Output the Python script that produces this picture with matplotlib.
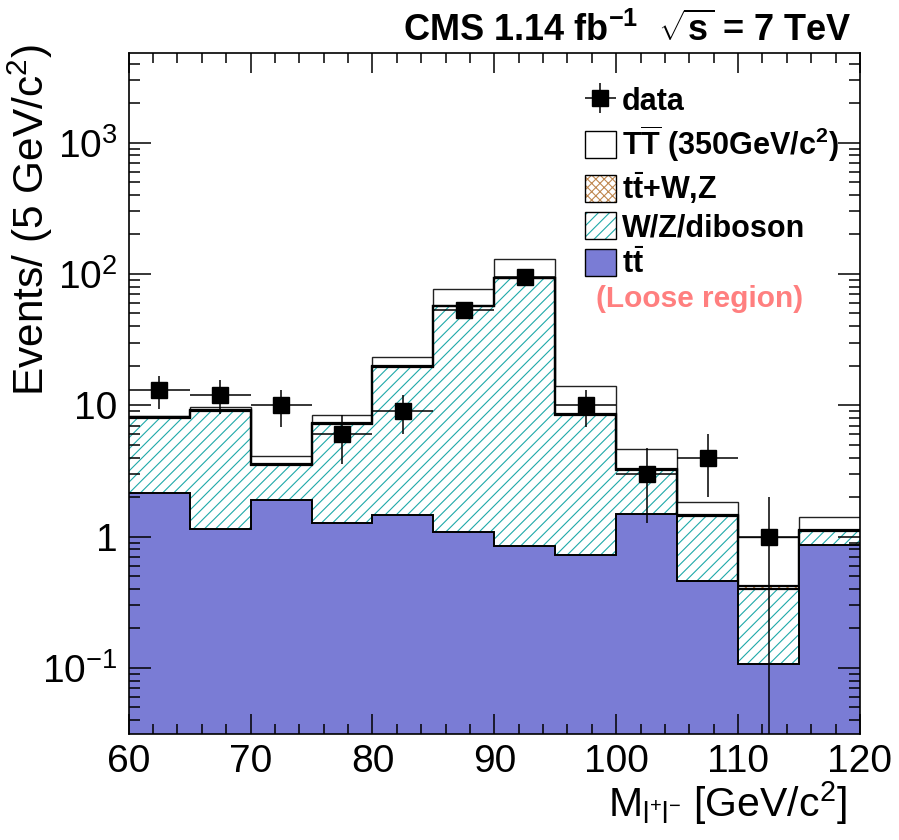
import numpy as np
import matplotlib
matplotlib.use('Agg')
import matplotlib.pyplot as plt
from matplotlib.patches import Patch
from matplotlib.legend_handler import HandlerTuple
from matplotlib.ticker import FixedLocator, LogLocator, MultipleLocator, FuncFormatter, NullFormatter

plt.rcParams['font.family'] = ['Liberation Sans', 'DejaVu Sans']
plt.rcParams['mathtext.fontset'] = 'custom'
plt.rcParams['mathtext.rm'] = 'Liberation Sans'
plt.rcParams['mathtext.bf'] = 'Liberation Sans:bold'
plt.rcParams['mathtext.it'] = 'Liberation Sans:italic'
plt.rcParams['hatch.linewidth'] = 0.8

# dilepton mass bins, 5 GeV wide
bin_edges = np.arange(60, 121, 5)
data_counts = np.array([13, 12, 10, 6, 9, 53, 94, 10, 3, 4, 1, 0])

# backgrounds, stacked bottom to top
ttbar = np.array([2.16, 1.14, 1.90, 1.26, 1.45, 1.09, 0.85, 0.72, 1.48, 0.46, 0.108, 0.86])
wz_diboson = np.array([5.84, 7.96, 1.59, 5.94, 18.25, 55.9, 91.85, 7.72, 1.76, 0.98, 0.289, 0.25])
ttbar_wz = np.array([0.08, 0.08, 0.05, 0.08, 0.15, 0.3, 0.4, 0.1, 0.04, 0.03, 0.023, 0.02])
# signal T Tbar, M = 350 GeV/c^2
tprime = np.array([0.22, 0.58, 0.57, 1.12, 3.35, 19.1, 35.9, 5.36, 1.39, 0.37, 0.57, 0.29])

blue = '#7a7cd5'
teal = '#1fa9a9'
brown = '#c08850'

lvl1 = ttbar
lvl2 = lvl1 + wz_diboson
lvl3 = lvl2 + ttbar_wz
lvl4 = lvl3 + tprime

fig = plt.figure(figsize=(8.99, 8.40), dpi=100)
ax = fig.add_axes([0.1432, 0.1262, 0.8134, 0.8111])

floor = 1e-3
ax.stairs(lvl4, bin_edges, baseline=floor, fill=True, facecolor='white', linewidth=0)
ax.stairs(lvl4, bin_edges, baseline=None, color='#222222', linewidth=1.0)
ax.stairs(lvl3, bin_edges, baseline=lvl2, fill=True, facecolor='white',
          edgecolor=brown, hatch='xxxx', linewidth=0)
ax.stairs(lvl2, bin_edges, baseline=lvl1, fill=True, facecolor='white',
          edgecolor=teal, hatch='///', linewidth=0)
ax.stairs(lvl3, bin_edges, baseline=None, color='black', linewidth=1.6)
ax.stairs(lvl2, bin_edges, baseline=None, color='black', linewidth=1.6)
ax.stairs(lvl1, bin_edges, baseline=floor, fill=True, facecolor=blue, linewidth=0)
ax.stairs(lvl1, bin_edges, baseline=None, color='black', linewidth=1.4)

centers = 0.5 * (bin_edges[:-1] + bin_edges[1:])
has_data = data_counts > 0
data_err = ax.errorbar(centers[has_data], data_counts[has_data],
                       yerr=np.sqrt(data_counts[has_data]), xerr=2.5,
                       fmt='s', color='black', markersize=12, elinewidth=1.1,
                       capsize=0, zorder=5)

ax.set_xlim(60, 120)
ax.set_yscale('log')
ax.set_ylim(0.0314, 4840)

ax.xaxis.set_major_locator(MultipleLocator(10))
ax.xaxis.set_minor_locator(MultipleLocator(2))
ax.yaxis.set_major_locator(FixedLocator([0.1, 1, 10, 100, 1000]))
ax.yaxis.set_minor_locator(LogLocator(base=10, subs=np.arange(2, 10), numticks=20))
ax.yaxis.set_minor_formatter(NullFormatter())
ylabels = {0.1: '$10^{-1}$', 1: '1', 10: '10', 100: '$10^{2}$', 1000: '$10^{3}$'}
ax.yaxis.set_major_formatter(FuncFormatter(lambda v, p: ylabels.get(round(v, 3), '')))

ax.tick_params(which='both', direction='in', top=True, right=True, width=1.1,
               labelsize=28)
ax.tick_params(axis='x', which='major', length=14.5, pad=7)
ax.tick_params(axis='x', which='minor', length=7.2)
ax.tick_params(axis='y', which='major', length=15.8, pad=8)
ax.tick_params(axis='y', which='minor', length=8)
for sp in ax.spines.values():
    sp.set_linewidth(1.2)

# axis titles sit at the far ends of the axes
fig.text(847 / 899, 1 - 803 / 840, r'M$_{\mathregular{l^{+}l^{-}}}$ [GeV/c$^{2}$]',
         ha='right', va='center', fontsize=29.5)
fig.text(30 / 899, 1 - 44 / 840, r'Events/ (5 GeV/c$^{2}$)',
         rotation=90, ha='center', va='top', fontsize=30.5)

fig.text(852 / 899, 1 - 31 / 840,
         r'CMS 1.14 fb$^{\mathbf{-1}}$  $\sqrt{\mathbf{s}}$ = 7 TeV',
         ha='right', va='center', fontsize=26, fontweight='bold')

handles = [
    data_err,
    Patch(facecolor='white', edgecolor='black', linewidth=1.0),
    (Patch(facecolor='white', edgecolor=brown, hatch='xxxx', linewidth=0),
     Patch(facecolor='none', edgecolor='black', linewidth=1.0)),
    (Patch(facecolor='white', edgecolor=teal, hatch='///', linewidth=0),
     Patch(facecolor='none', edgecolor='black', linewidth=1.0)),
    Patch(facecolor=blue, edgecolor='black', linewidth=1.0),
]
labels = [
    'data',
    r'T$\overline{\mathbf{T}}$ (350GeV/c$^{\mathbf{2}}$)',
    r't$\bar{\mathbf{t}}$+W,Z',
    'W/Z/diboson',
    r't$\bar{\mathbf{t}}$',
]
leg = ax.legend(handles, labels, loc='upper left',
                bbox_to_anchor=(585 / 899, 1 - 86 / 840), bbox_transform=fig.transFigure,
                frameon=False, prop={'weight': 'bold', 'size': 22},
                handlelength=1.0, handleheight=1.0, handletextpad=0.2,
                labelspacing=0.2, borderpad=0, borderaxespad=0,
                handler_map={tuple: HandlerTuple(ndivide=1)})

fig.text(700 / 899, 1 - 299 / 840, '(Loose region)', ha='center', va='center',
         fontsize=21.5, fontweight='bold', color='#ff7f7f')

fig.savefig('out.png', dpi=100)
